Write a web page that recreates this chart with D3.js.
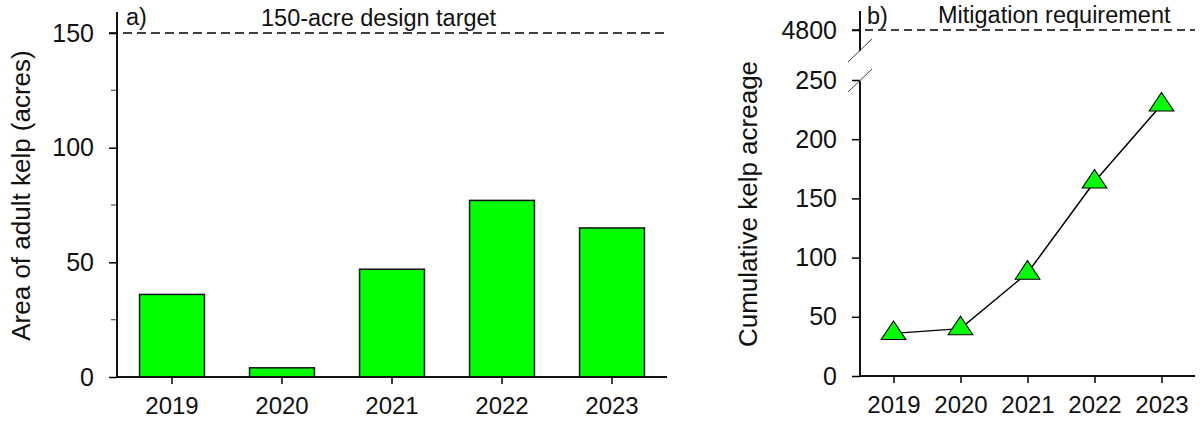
<!DOCTYPE html>
<html>
<head>
<meta charset="utf-8">
<script src="https://cdn.jsdelivr.net/npm/d3@7"></script>
<style>
  html, body { margin: 0; padding: 0; background: #fff; }
  svg { display: block; font-family: "Liberation Sans", Arial, sans-serif; }
</style>
</head>
<body>
<svg id="chart" width="1202" height="423"></svg>
<script>
// ---- data ----
const years = ["2019", "2020", "2021", "2022", "2023"];
const adultKelpArea = [36, 4, 47, 77, 65];
const cumulativeAcreage = [36, 40, 87, 164, 229];
const leftTicks = [0, 50, 100, 150];
const leftMinorTicks = [25, 75, 125];
const rightTicks = [0, 50, 100, 150, 200, 250];
const rightUpperTicks = [4800];
const designTarget = 150;
const mitigationRequirement = 4800;
const leftAxisTitle = "Area of adult kelp (acres)";
const rightAxisTitle = "Cumulative kelp acreage";
const leftNote = "150-acre design target";
const rightNote = "Mitigation requirement";

const svg = d3.select("#chart");
const tickFont = 24, yTickFont = 25, titleFont = 26, noteFont = 23.5;
const green = "#00ff00";
const fmt = d3.format("d");

// ================= Panel a =================
const La = { left: 117, right: 667, top: 12, bottom: 377 };
const xA = d3.scaleBand().domain(years).range([La.left, La.right]).paddingInner(0.41).paddingOuter(0.205);
const yA = d3.scaleLinear().domain([0, 150]).range([La.bottom, 33]);
const gA = svg.append("g");

// bars
gA.selectAll("rect.bar").data(years).join("rect")
  .attr("class", "bar")
  .attr("x", d => xA(d))
  .attr("width", xA.bandwidth())
  .attr("y", (d, i) => yA(adultKelpArea[i]))
  .attr("height", (d, i) => yA(0) - yA(adultKelpArea[i]))
  .attr("fill", green).attr("stroke", "#111").attr("stroke-width", 1.5);

// dashed target line
gA.append("line")
  .attr("x1", La.left - 8).attr("x2", La.right)
  .attr("y1", yA(designTarget)).attr("y2", yA(designTarget))
  .attr("stroke", "#000").attr("stroke-width", 1.5).attr("stroke-dasharray", "9,5");

// y axis
const yAxisA = d3.axisLeft(yA).tickValues(leftTicks).tickFormat(fmt).tickSize(8).tickSizeOuter(0).tickPadding(15);
const gyA = gA.append("g").attr("transform", `translate(${La.left},0)`).call(yAxisA);
gyA.select(".domain").remove();
gyA.selectAll(".tick line").attr("stroke", "#000").attr("stroke-width", 1.5);
gyA.selectAll(".tick text").attr("font-size", yTickFont).attr("fill", "#111").attr("font-family", "Liberation Sans, Arial, sans-serif");
// minor ticks
gA.selectAll("line.minor").data(leftMinorTicks).join("line")
  .attr("class", "minor")
  .attr("x1", La.left - 6).attr("x2", La.left)
  .attr("y1", d => yA(d)).attr("y2", d => yA(d))
  .attr("stroke", "#666").attr("stroke-width", 1.3);
gA.append("line").attr("x1", La.left).attr("x2", La.left).attr("y1", La.top).attr("y2", La.bottom)
  .attr("stroke", "#111").attr("stroke-width", 2);

// x axis
const xAxisA = d3.axisBottom(xA).tickSize(7).tickSizeOuter(0).tickPadding(13);
const gxA = gA.append("g").attr("transform", `translate(0,${La.bottom})`).call(xAxisA);
gxA.select(".domain").remove();
gxA.selectAll(".tick line").attr("stroke", "#000").attr("stroke-width", 1.5);
gxA.selectAll(".tick text").attr("font-size", tickFont).attr("fill", "#111").attr("font-family", "Liberation Sans, Arial, sans-serif");
gA.append("line").attr("x1", La.left).attr("x2", La.right).attr("y1", La.bottom).attr("y2", La.bottom)
  .attr("stroke", "#111").attr("stroke-width", 2);

// labels
gA.append("text").attr("transform", `translate(30,${(La.top + La.bottom) / 2 + 1}) rotate(-90)`)
  .attr("text-anchor", "middle").attr("font-size", titleFont).attr("fill", "#111").text(leftAxisTitle);
gA.append("text").attr("x", 126).attr("y", 25).attr("font-size", noteFont).attr("fill", "#111").text("a)");
gA.append("text").attr("x", 261).attr("y", 26).attr("font-size", noteFont).attr("fill", "#111").text(leftNote);

// ================= Panel b =================
const Lb = { left: 860, right: 1195, bottom: 376 };
const xB = d3.scalePoint().domain(years).range([Lb.left, Lb.right]).padding(0.5);
const yB = d3.scaleLinear().domain([0, 250]).range([Lb.bottom, 80]);
const yBtop = d3.scaleLinear().domain([4780, 4820]).range([54, 6]);
const gB = svg.append("g");

// dashed requirement line
gB.append("line")
  .attr("x1", Lb.left - 8).attr("x2", Lb.right)
  .attr("y1", yBtop(mitigationRequirement)).attr("y2", yBtop(mitigationRequirement))
  .attr("stroke", "#000").attr("stroke-width", 1.5).attr("stroke-dasharray", "8,5");

// y axis lower
const yAxisB = d3.axisLeft(yB).tickValues(rightTicks).tickFormat(fmt).tickSize(8).tickSizeOuter(0).tickPadding(15);
const gyB = gB.append("g").attr("transform", `translate(${Lb.left},0)`).call(yAxisB);
gyB.select(".domain").remove();
gyB.selectAll(".tick line").attr("stroke", "#000").attr("stroke-width", 1.5);
gyB.selectAll(".tick text").attr("font-size", yTickFont).attr("fill", "#111").attr("font-family", "Liberation Sans, Arial, sans-serif");
// y axis upper
const yAxisBt = d3.axisLeft(yBtop).tickValues(rightUpperTicks).tickFormat(fmt).tickSize(8).tickSizeOuter(0).tickPadding(15);
const gyBt = gB.append("g").attr("transform", `translate(${Lb.left},0)`).call(yAxisBt);
gyBt.select(".domain").remove();
gyBt.selectAll(".tick line").attr("stroke", "#000").attr("stroke-width", 1.5);
gyBt.selectAll(".tick text").attr("font-size", yTickFont).attr("fill", "#111").attr("font-family", "Liberation Sans, Arial, sans-serif");

gB.append("line").attr("x1", Lb.left).attr("x2", Lb.left).attr("y1", 11).attr("y2", 51)
  .attr("stroke", "#111").attr("stroke-width", 2);
gB.append("line").attr("x1", Lb.left).attr("x2", Lb.left).attr("y1", 81).attr("y2", Lb.bottom)
  .attr("stroke", "#111").attr("stroke-width", 2);
// break marks
[51, 81].forEach(yc => {
  gB.append("line").attr("x1", Lb.left - 12).attr("y1", yc + 11).attr("x2", Lb.left + 12).attr("y2", yc - 12)
    .attr("stroke", "#444").attr("stroke-width", 1);
});

// x axis
const xAxisB = d3.axisBottom(xB).tickSize(7).tickSizeOuter(0).tickPadding(13);
const gxB = gB.append("g").attr("transform", `translate(0,${Lb.bottom})`).call(xAxisB);
gxB.select(".domain").remove();
gxB.selectAll(".tick line").attr("stroke", "#000").attr("stroke-width", 1.5);
gxB.selectAll(".tick text").attr("font-size", tickFont).attr("fill", "#111").attr("font-family", "Liberation Sans, Arial, sans-serif");
gB.append("line").attr("x1", Lb.left).attr("x2", Lb.right).attr("y1", Lb.bottom).attr("y2", Lb.bottom)
  .attr("stroke", "#111").attr("stroke-width", 2);

// line + triangles
const pts = years.map((y, i) => [xB(y), yB(cumulativeAcreage[i])]);
gB.append("path").attr("d", d3.line()(pts)).attr("fill", "none").attr("stroke", "#000").attr("stroke-width", 1.5);
const tri = d3.symbol().type(d3.symbolTriangle).size(200);
gB.selectAll("path.pt").data(pts).join("path")
  .attr("class", "pt")
  .attr("transform", d => `translate(${d[0]},${d[1]}) scale(1.15,1)`)
  .attr("d", tri)
  .attr("fill", green).attr("stroke", "#000").attr("stroke-width", 1);

// labels
gB.append("text").attr("transform", `translate(757,204) rotate(-90)`)
  .attr("text-anchor", "middle").attr("font-size", titleFont).attr("fill", "#111").text(rightAxisTitle);
gB.append("text").attr("x", 867).attr("y", 24).attr("font-size", noteFont).attr("fill", "#111").text("b)");
gB.append("text").attr("x", 938).attr("y", 23).attr("font-size", noteFont).attr("fill", "#111").text(rightNote);
</script>
</body>
</html>
